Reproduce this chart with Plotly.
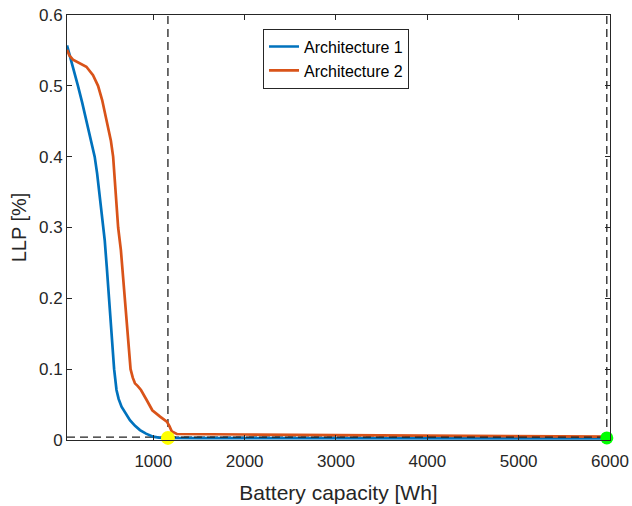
import plotly.graph_objects as go

# Battery capacity [Wh] vs loss of load probability, two architectures
cap_arch1 = [55, 100, 140, 175, 220, 260, 310, 358, 385, 410, 430, 450, 468, 490, 516, 545, 571, 597,
             620, 652, 700, 744, 800, 854, 920, 997, 1060, 1130, 1500, 2500, 3500, 4500, 6000]
llp_arch1 = [0.557, 0.537, 0.519, 0.5, 0.477, 0.454, 0.428, 0.4, 0.376, 0.35, 0.326, 0.3, 0.282, 0.245,
             0.2, 0.148, 0.1, 0.0706, 0.058, 0.047, 0.036, 0.028, 0.02, 0.014, 0.009, 0.0047, 0.0033,
             0.0028, 0.0026, 0.0025, 0.0024, 0.0023, 0.0023]

cap_arch2 = [55, 80, 120, 200, 267, 340, 395, 440, 505, 535, 560, 590, 615, 645, 689, 720, 751, 775,
             799, 830, 865, 927, 989, 1074, 1148, 1175, 1203, 1258, 1400, 2000, 3000, 4000, 5000, 6000]
llp_arch2 = [0.551, 0.543, 0.537, 0.532, 0.527, 0.515, 0.5, 0.48, 0.4425, 0.423, 0.4, 0.35, 0.3, 0.268,
             0.2, 0.15, 0.1, 0.088, 0.08, 0.076, 0.0706, 0.0565, 0.042, 0.033, 0.026, 0.02, 0.012,
             0.0085, 0.0082, 0.0078, 0.0068, 0.0058, 0.0052, 0.0047]

# Reference level and selected design points
llp_threshold = 0.004
cap_point_a = 1160
cap_point_b = 5965

x_ticks = [1000, 2000, 3000, 4000, 5000, 6000]
y_ticks = [0, 0.1, 0.2, 0.3, 0.4, 0.5, 0.6]
y_tick_text = ["0", "0.1", "0.2", "0.3", "0.4", "0.5", "0.6"]

BLUE = "#0072BD"
ORANGE = "#D95319"
AXIS = "#262626"
GUIDE = "#222222"
FONT = "Liberation Sans, Arial, sans-serif"
GUIDE_LINE = dict(color=GUIDE, width=1.3, dash="8px,5px")

fig = go.Figure()

# dashed guide lines
fig.add_trace(go.Scatter(x=[55, 6000], y=[llp_threshold, llp_threshold], mode="lines",
                         line=GUIDE_LINE, showlegend=False, hoverinfo="skip"))
fig.add_trace(go.Scatter(x=[cap_point_a, cap_point_a], y=[0, 0.6], mode="lines",
                         line=GUIDE_LINE, showlegend=False, hoverinfo="skip"))
fig.add_trace(go.Scatter(x=[cap_point_b, cap_point_b], y=[0, 0.6], mode="lines",
                         line=GUIDE_LINE, showlegend=False, hoverinfo="skip"))

fig.add_trace(go.Scatter(x=cap_arch1, y=llp_arch1, mode="lines", name="Architecture 1",
                         line=dict(color=BLUE, width=2.7)))
fig.add_trace(go.Scatter(x=cap_arch2, y=llp_arch2, mode="lines", name="Architecture 2",
                         line=dict(color=ORANGE, width=2.7)))

# threshold drawn again over the flat tails
fig.add_trace(go.Scatter(x=[cap_point_a, 6000], y=[llp_threshold, llp_threshold], mode="lines",
                         line=GUIDE_LINE, showlegend=False, hoverinfo="skip"))

fig.add_trace(go.Scatter(x=[cap_point_a], y=[0.003], mode="markers", cliponaxis=False,
                         marker=dict(color="#FFFF00", size=14), showlegend=False, hoverinfo="skip"))
fig.add_trace(go.Scatter(x=[cap_point_b], y=[0.003], mode="markers", cliponaxis=False,
                         marker=dict(color="#00FF00", size=13), showlegend=False, hoverinfo="skip"))

axis_common = dict(showgrid=False, zeroline=False, showline=True, linecolor=AXIS, linewidth=1,
                   mirror="ticks", ticks="inside", ticklen=5, tickcolor=AXIS, automargin=False,
                   tickfont=dict(family=FONT, size=17, color=AXIS))

fig.update_xaxes(range=[55, 6000], tickvals=x_ticks, ticktext=[str(v) for v in x_ticks],
                 ticklabelstandoff=6,
                 title=dict(text="Battery capacity [Wh]", font=dict(family=FONT, size=21, color=AXIS),
                            standoff=14),
                 **axis_common)
fig.update_yaxes(range=[0, 0.6], tickvals=y_ticks, ticktext=y_tick_text,
                 title=dict(text="LLP [%]", font=dict(family=FONT, size=20, color=AXIS), standoff=6),
                 **axis_common)

fig.update_layout(
    width=632, height=506,
    margin=dict(l=67, r=22, t=15, b=66),
    paper_bgcolor="white", plot_bgcolor="white",
    font=dict(family=FONT, color=AXIS),
    legend=dict(x=0.361, y=0.968, xanchor="left", yanchor="top",
                bgcolor="white", bordercolor=AXIS, borderwidth=1,
                font=dict(family=FONT, size=16, color="#000000"),
                tracegroupgap=0),
)

fig.write_html("out.html")
